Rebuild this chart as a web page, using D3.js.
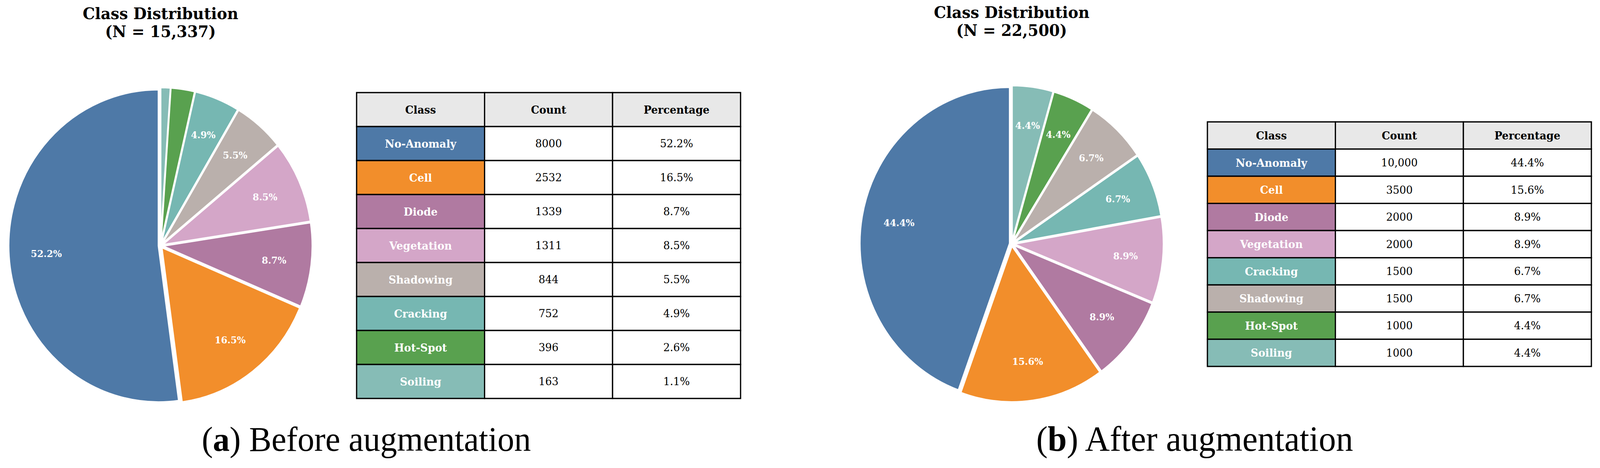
<!DOCTYPE html>
<html>
<head>
<meta charset="utf-8">
<script src="https://cdn.jsdelivr.net/npm/d3@7"></script>
<style>
  html, body { margin: 0; padding: 0; background: #ffffff; width: 100%; height: 100%; overflow: hidden; }
  #chart { width: 100%; height: 100%; }
  svg { display: block; }
</style>
</head>
<body>
<div id="chart"></div>
<script>
// ---------------- DATA ----------------
const classesBefore = ["No-Anomaly", "Cell", "Diode", "Vegetation", "Shadowing", "Cracking", "Hot-Spot", "Soiling"];
const countsBefore = [8000, 2532, 1339, 1311, 844, 752, 396, 163];
const countLabelsBefore = ["8000", "2532", "1339", "1311", "844", "752", "396", "163"];

const classesAfter = ["No-Anomaly", "Cell", "Diode", "Vegetation", "Cracking", "Shadowing", "Hot-Spot", "Soiling"];
const countsAfter = [10000, 3500, 2000, 2000, 1500, 1500, 1000, 1000];
const countLabelsAfter = ["10,000", "3500", "2000", "2000", "1500", "1500", "1000", "1000"];

const tableHeaders = ["Class", "Count", "Percentage"];
const classColors = {
  "No-Anomaly": "#4e79a7",
  "Cell": "#f28e2b",
  "Diode": "#b07aa1",
  "Vegetation": "#d4a6c8",
  "Shadowing": "#bab0ac",
  "Cracking": "#76b7b2",
  "Hot-Spot": "#59a14f",
  "Soiling": "#86bcb6"
};
const captionLetters = ["a", "b"];
const captionTexts = [" Before augmentation", " After augmentation"];
const labelThreshold = 3; // percent

// ---------------- LAYOUT ----------------
const W = 4267, H = 1198;
const layouts = [
  { cx: 428, cy: 629, r: 400, tx: 951, ty: 237, tw: 1024, th: 783, capX: 977, titleY: 49 },
  { cx: 2698, cy: 624, r: 400, tx: 3220, ty: 312, tw: 1024, th: 626, capX: 3186, titleY: 46 }
];
const datasets = [
  { classes: classesBefore, counts: countsBefore, countLabels: countLabelsBefore },
  { classes: classesAfter, counts: countsAfter, countLabels: countLabelsAfter }
];

const FONT = "'DejaVu Serif', serif";
const CAPFONT = "'Liberation Serif', 'Times New Roman', serif";

const svg = d3.select("#chart").append("svg")
  .attr("width", "100%").attr("height", "100%")
  .attr("viewBox", `0 0 ${W} ${H}`)
  .attr("preserveAspectRatio", "none");
svg.append("rect").attr("width", W).attr("height", H).attr("fill", "#fff");

// font size fitting to the widths measured on the reference
function fitSize(str, weight, family, target) {
  const t = svg.append("text").attr("font-family", family).attr("font-weight", weight)
    .attr("font-size", 100).text(str);
  const w = t.node().getComputedTextLength();
  t.remove();
  return w > 0 ? 100 * target / w : 28;
}
const titleSize = fitSize("Class Distribution", "bold", FONT, 415);
const labelSize = d3.mean([fitSize("52.2%", "bold", FONT, 85), fitSize("4.9%", "bold", FONT, 64)]);
const tableSize = d3.mean([
  fitSize("No-Anomaly", "bold", FONT, 193),
  fitSize("Percentage", "bold", FONT, 178),
  fitSize("8000", "normal", FONT, 70),
  fitSize("52.2%", "normal", FONT, 87.5)
]);
const captionWidths = [878, 845];

const fmtPct = d3.format(".1f");
const fmtN = d3.format(",");

datasets.forEach((ds, i) => {
  const L = layouts[i];
  const total = d3.sum(ds.counts);
  const rows = ds.classes.map((c, j) => ({
    cls: c, count: ds.counts[j], label: ds.countLabels[j],
    pct: fmtPct(ds.counts[j] / total * 100) + "%",
    pv: ds.counts[j] / total * 100
  }));

  const g = svg.append("g");

  // Title
  const title = g.append("text")
    .attr("x", L.cx).attr("y", L.titleY)
    .attr("text-anchor", "middle")
    .attr("font-family", FONT).attr("font-weight", "bold")
    .attr("font-size", titleSize).attr("fill", "#000");
  title.append("tspan").attr("x", L.cx).attr("dy", 0).text("Class Distribution");
  title.append("tspan").attr("x", L.cx).attr("dy", 46).text(`(N = ${fmtN(total)})`);

  // Pie (counter-clockwise from 12 o'clock, slightly exploded)
  const pie = d3.pie().sort(null).value(d => d.count)
    .startAngle(0).endAngle(-2 * Math.PI);
  const arcs = pie(rows);
  const arc = d3.arc().innerRadius(0).outerRadius(L.r);
  const explode = 0.013 * L.r;
  const pg = g.append("g").attr("transform", `translate(${L.cx},${L.cy})`);

  const slice = pg.selectAll("g.slice").data(arcs).join("g")
    .attr("class", "slice")
    .attr("transform", d => {
      const a = (d.startAngle + d.endAngle) / 2;
      return `translate(${explode * Math.sin(a)},${-explode * Math.cos(a)})`;
    });
  slice.append("path")
    .attr("d", arc)
    .attr("fill", d => classColors[d.data.cls])
    .attr("stroke", "#fff").attr("stroke-width", 4.5)
    .attr("stroke-linejoin", "miter");
  slice.filter(d => d.data.pv > labelThreshold)
    .append("text")
    .attr("x", d => 0.75 * L.r * Math.sin((d.startAngle + d.endAngle) / 2))
    .attr("y", d => -0.75 * L.r * Math.cos((d.startAngle + d.endAngle) / 2))
    .attr("text-anchor", "middle").attr("dominant-baseline", "central")
    .attr("font-family", FONT).attr("font-weight", "bold")
    .attr("font-size", labelSize).attr("fill", "#fff")
    .text(d => d.data.pct);

  // Table
  const x = d3.scaleBand().domain(d3.range(3)).range([L.tx, L.tx + L.tw]);
  const y = d3.scaleBand().domain(d3.range(rows.length + 1)).range([L.ty, L.ty + L.th]);
  const tg = g.append("g");
  const cells = [];
  tableHeaders.forEach((h, c) => cells.push({ r: 0, c, text: h, fill: "#e8e8e8", color: "#000", bold: true }));
  rows.forEach((d, r) => {
    cells.push({ r: r + 1, c: 0, text: d.cls, fill: classColors[d.cls], color: "#fff", bold: true });
    cells.push({ r: r + 1, c: 1, text: d.label, fill: "#fff", color: "#000", bold: false });
    cells.push({ r: r + 1, c: 2, text: d.pct, fill: "#fff", color: "#000", bold: false });
  });
  tg.selectAll("rect.cell").data(cells).join("rect")
    .attr("class", "cell")
    .attr("x", d => x(d.c)).attr("y", d => y(d.r))
    .attr("width", x.bandwidth()).attr("height", y.bandwidth())
    .attr("fill", d => d.fill)
    .attr("stroke", "#000").attr("stroke-width", 3.3);
  tg.selectAll("text.cell").data(cells).join("text")
    .attr("class", "cell")
    .attr("x", d => x(d.c) + x.bandwidth() / 2)
    .attr("y", d => y(d.r) + y.bandwidth() / 2)
    .attr("text-anchor", "middle").attr("dominant-baseline", "central")
    .attr("font-family", FONT)
    .attr("font-weight", d => d.bold ? "bold" : "normal")
    .attr("font-size", tableSize)
    .attr("fill", d => d.color)
    .text(d => d.text);

  // Caption
  const cap = g.append("text")
    .attr("x", L.capX).attr("y", 1154)
    .attr("text-anchor", "middle")
    .attr("font-family", CAPFONT).attr("font-size", 100).attr("fill", "#000");
  cap.append("tspan").text("(");
  cap.append("tspan").attr("font-weight", "bold").text(captionLetters[i]);
  cap.append("tspan").text(")" + captionTexts[i]);
  const cw = cap.node().getComputedTextLength();
  if (cw > 0) cap.attr("font-size", 100 * captionWidths[i] / cw);
});
</script>
</body>
</html>
